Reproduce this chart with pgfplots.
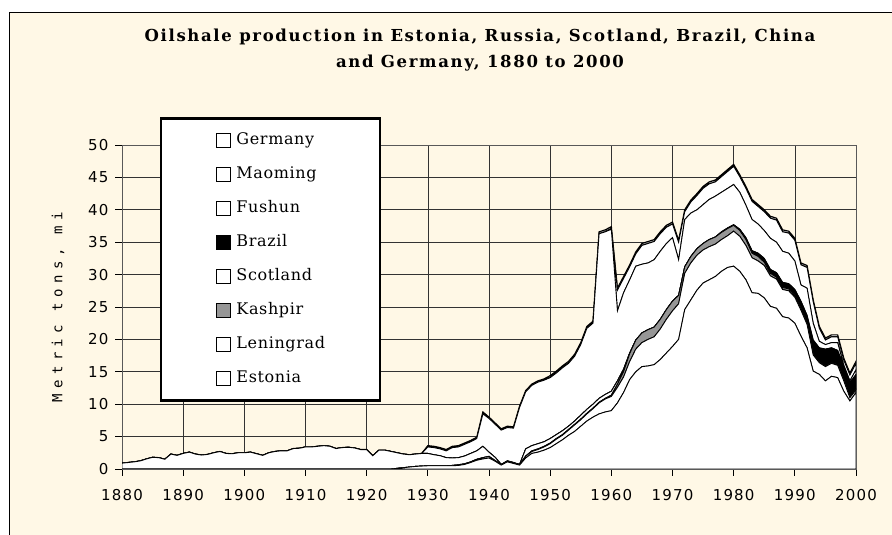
\documentclass[border=0pt]{standalone}
\usepackage{pgfplots}
\pgfplotsset{compat=1.18}
\usepackage{pgfplotstable}
\usepackage{fontspec}
\setmainfont{DejaVu Serif}
\newfontfamily\tickfont[LetterSpace=8]{DejaVu Sans}
\newfontfamily\labelfont[LetterSpace=38]{DejaVu Sans Mono}
\newfontfamily\titlefont[LetterSpace=10]{DejaVu Serif}
\newfontfamily\legfont[LetterSpace=4]{DejaVu Serif}
\definecolor{cream}{HTML}{FFF8E6}
\definecolor{kgray}{HTML}{969696}

\pgfplotstableread{
year est len kas sco bra fus mao ger
1880 0 0 0 0.9 0 0 0 0
1881 0 0 0 1.0 0 0 0 0
1882 0 0 0 1.1 0 0 0 0
1883 0 0 0 1.25 0 0 0 0
1884 0 0 0 1.55 0 0 0 0
1885 0 0 0 1.8 0 0 0 0
1886 0 0 0 1.75 0 0 0 0
1887 0 0 0 1.5 0 0 0 0
1888 0 0 0 2.3 0 0 0 0
1889 0 0 0 2.1 0 0 0 0
1890 0 0 0 2.4 0 0 0 0
1891 0 0 0 2.6 0 0 0 0
1892 0 0 0 2.3 0 0 0 0
1893 0 0 0 2.15 0 0 0 0
1894 0 0 0 2.25 0 0 0 0
1895 0 0 0 2.5 0 0 0 0
1896 0 0 0 2.7 0 0 0 0
1897 0 0 0 2.4 0 0 0 0
1898 0 0 0 2.35 0 0 0 0
1899 0 0 0 2.5 0 0 0 0
1900 0 0 0 2.5 0 0 0 0
1901 0 0 0 2.6 0 0 0 0
1902 0 0 0 2.35 0 0 0 0
1903 0 0 0 2.1 0 0 0 0
1904 0 0 0 2.5 0 0 0 0
1905 0 0 0 2.7 0 0 0 0
1906 0 0 0 2.8 0 0 0 0
1907 0 0 0 2.8 0 0 0 0
1908 0 0 0 3.15 0 0 0 0
1909 0 0 0 3.2 0 0 0 0
1910 0 0 0 3.4 0 0 0 0
1911 0 0 0 3.4 0 0 0 0
1912 0 0 0 3.5 0 0 0 0
1913 0 0 0 3.6 0 0 0 0
1914 0 0 0 3.5 0 0 0 0
1915 0 0 0 3.15 0 0 0 0
1916 0 0 0 3.3 0 0 0 0
1917 0 0 0 3.35 0 0 0 0
1918 0 0 0 3.25 0 0 0 0
1919 0 0 0 3.0 0 0 0 0
1920 0 0 0 3.0 0 0 0 0
1921 0 0 0 2.05 0 0 0 0
1922 0 0 0 2.9 0 0 0 0
1923 0 0 0 2.9 0 0 0 0
1924 0 0 0 2.7 0 0 0 0
1925 0.1 0 0 2.4 0 0 0 0
1926 0.2 0 0 2.1 0 0 0 0
1927 0.3 0 0 1.9 0 0 0 0
1928 0.4 0 0 1.9 0 0 0 0
1929 0.45 0 0 1.95 0 0 0 0
1930 0.5 0 0 1.9 0 1.0 0 0.2
1931 0.5 0 0 1.7 0 1.1 0 0.2
1932 0.5 0 0 1.55 0 1.05 0 0.2
1933 0.5 0 0 1.25 0 1.05 0 0.2
1934 0.5 0.05 0 1.15 0 1.6 0 0.2
1935 0.55 0.1 0 1.1 0 1.65 0 0.2
1936 0.7 0.1 0 1.2 0 1.8 0 0.2
1937 1.0 0.1 0 1.3 0 1.8 0 0.2
1938 1.35 0.15 0 1.3 0 1.9 0 0.2
1939 1.55 0.2 0 1.75 0 5.0 0 0.3
1940 1.7 0.25 0 0.65 0 5.2 0 0.2
1941 1.2 0.1 0 0.5 0 5.1 0 0.2
1942 0.6 0.05 0 0.05 0 5.3 0 0.2
1943 1.1 0.1 0 0.05 0 5.15 0 0.2
1944 0.85 0.1 0 0.05 0 5.3 0 0.2
1945 0.6 0.05 0 0.05 0 8.8 0 0.2
1946 1.7 0.3 0 1.1 0 8.8 0 0.2
1947 2.4 0.3 0.1 0.8 0 9.3 0 0.2
1948 2.6 0.4 0.1 0.8 0 9.5 0 0.2
1949 2.9 0.5 0.1 0.7 0 9.5 0 0.2
1950 3.3 0.6 0.1 0.7 0 9.4 0 0.3
1951 3.9 0.7 0.1 0.6 0 9.5 0 0.3
1952 4.5 0.7 0.1 0.6 0 9.7 0 0.3
1953 5.2 0.8 0.1 0.5 0 9.7 0 0.3
1954 5.8 1.0 0.1 0.5 0 10.0 0 0.3
1955 6.6 1.0 0.1 0.6 0 10.9 0 0.3
1956 7.4 1.1 0.1 0.6 0 12.5 0 0.3
1957 8.0 1.3 0.1 0.6 0 12.5 0 0.3
1958 8.5 1.7 0.1 0.6 0 25.4 0 0.3
1959 8.8 2.0 0.1 0.6 0 25.1 0 0.3
1960 9.0 2.2 0.2 0.6 0 25.0 0.1 0.3
1961 10.2 2.4 0.5 0.5 0 10.8 3.2 0.3
1962 11.8 2.4 0.8 0.4 0 11.8 2.2 0.3
1963 13.8 2.8 1.2 0.1 0 11.3 2.0 0.3
1964 15.0 3.5 1.4 0 0 11.4 1.9 0.3
1965 15.8 3.7 1.5 0 0 10.6 2.9 0.3
1966 15.9 4.1 1.5 0 0 10.3 3.0 0.3
1967 16.1 4.3 1.5 0 0 10.4 2.8 0.3
1968 16.9 4.7 1.5 0 0 10.5 2.7 0.3
1969 17.9 5.2 1.5 0 0 10.2 2.5 0.3
1970 18.9 5.5 1.5 0 0 9.8 2.1 0.3
1971 20.0 5.5 1.3 0 0 5.5 2.7 0.3
1972 24.6 5.6 1.0 0 0 7.3 1.2 0.3
1973 26.1 5.7 1.0 0 0 6.7 1.7 0.3
1974 27.6 5.4 1.0 0 0 6.0 2.2 0.3
1975 28.7 5.1 1.0 0 0 6.0 2.5 0.3
1976 29.2 5.1 1.1 0 0 6.2 2.4 0.3
1977 29.7 5.0 1.1 0 0 6.3 2.2 0.3
1978 30.5 4.9 1.1 0 0.1 6.1 2.4 0.3
1979 31.1 4.9 1.1 0 0.1 6.1 2.6 0.3
1980 31.3 5.4 0.9 0 0.1 6.2 2.8 0.3
1981 30.5 5.4 0.9 0 0.2 5.7 2.4 0.3
1982 29.2 5.3 0.9 0 0.3 5.0 2.6 0.3
1983 27.2 5.4 0.7 0 0.4 4.8 2.8 0.3
1984 27.1 5.0 0.7 0 0.5 4.5 2.7 0.3
1985 26.4 5.0 0.5 0 0.6 4.3 2.9 0.3
1986 25.1 4.7 0.4 0 0.6 4.8 3.1 0.3
1987 24.8 4.5 0.3 0 0.7 4.7 3.4 0.3
1988 23.5 4.2 0.3 0 0.8 4.8 3.0 0.3
1989 23.3 4.2 0.3 0 0.8 4.7 3.1 0.3
1990 22.5 4.0 0.3 0 0.9 4.4 3.2 0.3
1991 20.5 4.0 0.3 0 1.1 2.5 3.1 0.3
1992 18.7 3.6 0.2 0 1.2 4.2 3.2 0.3
1993 15.1 2.5 0.2 0 2.1 2.6 3.3 0.3
1994 14.6 1.8 0.1 0 2.2 1.0 2.0 0.3
1995 13.6 2.2 0.1 0 2.6 0.7 0.7 0.3
1996 14.3 2.0 0.1 0 2.3 0.8 0.9 0.3
1997 14.1 1.9 0.1 0 2.2 1.2 0.9 0.3
1998 12.0 1.6 0.1 0 2.1 0.2 0.8 0.3
1999 10.5 0.5 0.1 0 2.2 0.3 0.9 0.3
2000 11.8 0.4 0.1 0 2.3 0.7 1.0 0.3
}\data

\begin{document}
\begin{tikzpicture}[x=1pt,y=1pt]
\fill[white] (0,0) rectangle (892,535);
\filldraw[fill=cream, draw=black, line width=0.8pt] (9,-10) rectangle (905,523);
\node[font=\titlefont\bfseries\fontsize{16.5}{19}\selectfont] at (480,498) {Oilshale production in Estonia, Russia, Scotland, Brazil, China};
\node[font=\titlefont\bfseries\fontsize{16.5}{19}\selectfont] at (480,472) {and Germany, 1880 to 2000};
\begin{axis}[
  at={(122pt,66pt)}, anchor=south west,
  scale only axis, width=734pt, height=324pt,
  xmin=1880, xmax=2000, ymin=0, ymax=50,
  xtick={1880,1890,...,2000}, ytick={0,5,...,50},
  stack plots=y,
  axis background/.style={fill=cream},
  grid=major, major grid style={black!80, line width=0.6pt},
  axis line style={black!65, line width=0.7pt},
  tick align=outside, major tick length=7pt,
  xtick pos=bottom, ytick pos=left,
  tick style={black, line width=0.7pt},
  /pgf/number format/assume math mode=true,
  /pgf/number format/1000 sep={},
  x tick label style={font=\tickfont\fontsize{15}{17}\selectfont, yshift=-10pt},
  y tick label style={font=\tickfont\fontsize{15}{17}\selectfont, xshift=-3pt},
  ylabel={Metric tons, mi},
  every axis y label/.style={at={(axis description cs:-0.087,0.5)}, rotate=90, anchor=center, font=\labelfont\fontsize{14}{16}\selectfont},
  reverse legend,
  legend cell align=left,
  legend style={at={(axis description cs:0.0518,1.085)}, anchor=north west,
    draw=black, line width=2.2pt, fill=white,
    font=\legfont\fontsize{16}{18}\selectfont,
    row sep=18pt, inner xsep=55pt, inner ysep=14pt,
    nodes={inner sep=0pt, text height=12pt, text depth=4pt},
    column sep=0pt},
  legend image code/.code={\draw[#1, line width=0.6pt] (0pt,-6.5pt) rectangle (14pt,7.5pt);},
  every axis plot/.append style={line width=0.9pt, draw=black},
]
\addplot[fill=white] table[x=year,y=est]{\data} \closedcycle;
\addlegendentry{\ Estonia}
\addplot[fill=white] table[x=year,y=len]{\data} \closedcycle;
\addlegendentry{\ Leningrad}
\addplot[fill=kgray] table[x=year,y=kas]{\data} \closedcycle;
\addlegendentry{\ Kashpir}
\addplot[fill=white] table[x=year,y=sco]{\data} \closedcycle;
\addlegendentry{\ Scotland}
\addplot[fill=black] table[x=year,y=bra]{\data} \closedcycle;
\addlegendentry{\ Brazil}
\addplot[fill=white] table[x=year,y=fus]{\data} \closedcycle;
\addlegendentry{\ Fushun}
\addplot[fill=white] table[x=year,y=mao]{\data} \closedcycle;
\addlegendentry{\ Maoming}
\addplot[fill=white, line width=1.2pt] table[x=year,y=ger]{\data} \closedcycle;
\addlegendentry{\ Germany}
\end{axis}
\pgfresetboundingbox
\useasboundingbox (0,0) rectangle (892,535);
\end{tikzpicture}
\end{document}
